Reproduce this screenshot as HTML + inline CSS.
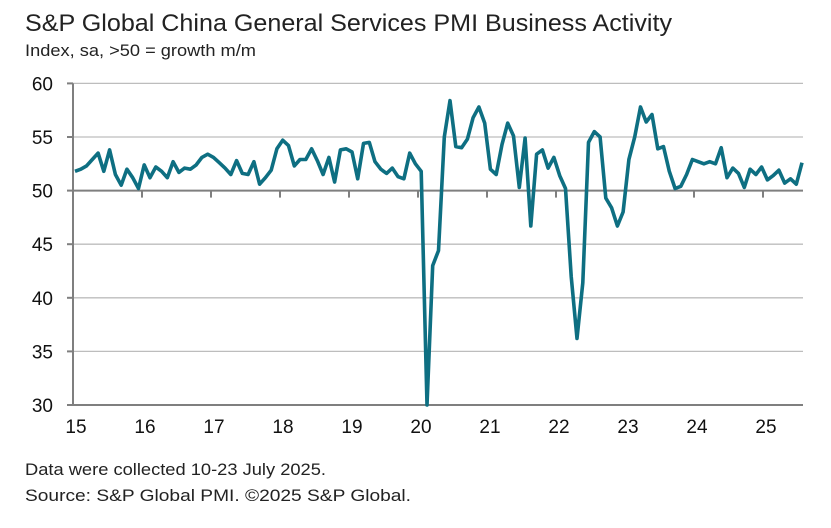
<!DOCTYPE html>
<html><head><meta charset="utf-8"><style>
body{margin:0;background:#fff;width:831px;height:528px;overflow:hidden;font-family:"Liberation Sans",sans-serif;}
svg{display:block}
</style></head><body>
<svg id="chart" width="831" height="528">
<text x="25" y="31" font-size="24" fill="#222" textLength="647" lengthAdjust="spacingAndGlyphs">S&amp;P Global China General Services PMI Business Activity</text>
<text x="25" y="56" font-size="16.5" fill="#222" textLength="231" lengthAdjust="spacingAndGlyphs">Index, sa, &gt;50 = growth m/m</text>
<text x="25" y="475" font-size="16.5" fill="#222" textLength="301" lengthAdjust="spacingAndGlyphs">Data were collected 10-23 July 2025.</text>
<text x="25" y="501" font-size="16.5" fill="#222" textLength="386" lengthAdjust="spacingAndGlyphs">Source: S&amp;P Global PMI. ©2025 S&amp;P Global.</text>
<g id="grid"></g><g id="axes"></g><g id="series"></g>
</svg>
<script>
const yTicks=[30,35,40,45,50,55,60];
const years=["15","16","17","18","19","20","21","22","23","24","25"];
const values=[
51.8,52.0,52.3,52.9,53.5,51.8,53.8,51.5,50.5,52.0,51.2,50.2,
52.4,51.2,52.2,51.8,51.2,52.7,51.7,52.1,52.0,52.4,53.1,53.4,
53.1,52.6,52.1,51.5,52.8,51.6,51.5,52.7,50.6,51.2,51.9,53.9,
54.7,54.2,52.3,52.9,52.9,53.9,52.8,51.5,53.1,50.8,53.8,53.9,
53.6,51.1,54.4,54.5,52.7,52.0,51.6,52.1,51.3,51.1,53.5,52.5,
51.8,26.5,43.0,44.4,55.0,58.4,54.1,54.0,54.8,56.8,57.8,56.3,
52.0,51.5,54.3,56.3,55.1,50.3,54.9,46.7,53.4,53.8,52.1,53.1,
51.4,50.2,42.0,36.2,41.4,54.5,55.5,55.0,49.3,48.4,46.7,48.0,
52.9,55.0,57.8,56.4,57.1,53.9,54.1,51.8,50.2,50.4,51.5,52.9,
52.7,52.5,52.7,52.5,54.0,51.2,52.1,51.6,50.3,52.0,51.5,52.2,
51.0,51.4,51.9,50.7,51.1,50.6,52.6];
const NS="http://www.w3.org/2000/svg";
const X0=73,X1=803,YEARW=69,DX0=75,DSTEP=5.77,YMIN=30,YMAX=60,PY0=405,PY1=83.4;
function xt(k){return X0+k*YEARW;}
function x(i){return DX0+i*DSTEP;}
function y(v){return PY0-(Math.max(v,YMIN)-YMIN)/(YMAX-YMIN)*(PY0-PY1);}
function mk(tag,attrs,parent){const e=document.createElementNS(NS,tag);for(const k in attrs)e.setAttribute(k,attrs[k]);parent.appendChild(e);return e;}
const grid=document.getElementById('grid'),axes=document.getElementById('axes'),series=document.getElementById('series');
yTicks.forEach(t=>{
 if(t>YMIN&&t!==50){const l=mk('line',{x1:X0,x2:X1,y1:y(t),y2:y(t),stroke:'#bdbdbd','stroke-width':1.3},grid);
 
 }
 const tk=mk('line',{x1:X0-6,x2:X0,y1:y(t),y2:y(t),stroke:'#7f7f7f','stroke-width':2},axes);
 
 
 const tx=mk('text',{x:53,y:y(t)+7,'font-size':19,'text-anchor':'end',fill:'#111'},axes);
 tx.textContent=t;
 
 
});
const base=mk('line',{x1:X0,x2:X1,y1:y(50),y2:y(50),stroke:'#7f7f7f','stroke-width':2},axes);


const bot=mk('line',{x1:X0,x2:X1,y1:PY0,y2:PY0,stroke:'#7f7f7f','stroke-width':2},axes);


const ya=mk('line',{x1:X0,x2:X0,y1:PY1,y2:PY0,stroke:'#7f7f7f','stroke-width':2},axes);


years.forEach((yr,k)=>{
 const xx=xt(k);
 if(k>0){const tk=mk('line',{x1:xx,x2:xx,y1:y(50),y2:y(50)+7,stroke:'#7f7f7f','stroke-width':2},axes);
 
 }
 const tx=mk('text',{x:xx+3,y:PY0+28,'font-size':19,'text-anchor':'middle',fill:'#111'},axes);
 tx.textContent=yr;
 
 
});
const d=values.map((v,i)=>(i?'L':'M')+x(i).toFixed(1)+' '+y(v).toFixed(1)).join(' ');
const p=mk('path',{d:d,fill:'none',stroke:'#0e6f82','stroke-width':3.6,'stroke-linejoin':'round'},series);


</script>
</body></html>
